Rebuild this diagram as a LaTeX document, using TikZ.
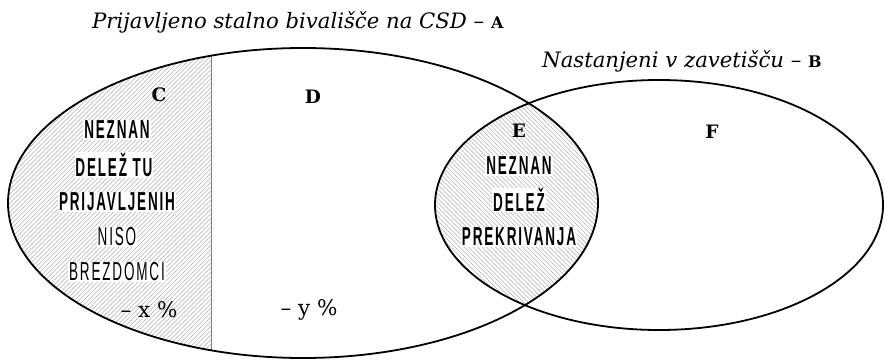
\documentclass[tikz,border=0pt]{standalone}
\usepackage{fontspec}
\setmainfont{DejaVu Serif}
\newfontfamily\ttl{DejaVu Serif}
\newfontfamily\lbl{DejaVu Serif}
\newfontfamily\cond[FakeStretch=0.52,LetterSpace=7]{Liberation Sans}
\begin{document}
\begin{tikzpicture}[x=1pt,y=-1pt,
  outline/.style={line width=1.8pt,black},
  hatch/.style={line width=0.4pt,black!30},
  divider/.style={line width=0.8pt,black!50},
  title/.style={font=\ttl\fontsize{21.2}{24}\selectfont\itshape,inner sep=0pt},
  letter/.style={font=\lbl\fontsize{18.5}{20}\selectfont\bfseries,inner sep=0pt},
  boldlab/.style={font=\cond\fontsize{26}{28}\selectfont\bfseries,fill=white,inner sep=0.8pt},
  reglab/.style={font=\cond\fontsize{26}{28}\selectfont,fill=white,inner sep=0.8pt},
  pct/.style={font=\lbl\fontsize{21.5}{24}\selectfont,inner sep=1pt}]
\useasboundingbox (0,0) rectangle (885,361);
\fill[white] (0,0) rectangle (885,361);
% hatching C
\begin{scope}
  \clip (303,203) ellipse [x radius=295pt, y radius=155pt];
  \clip (0,0) rectangle (211,361);
  \foreach \i in {-400,-395.5,...,300} {\draw[hatch] (\i,361) -- ++(361,-361);}
\end{scope}
% hatching E
\begin{scope}
  \clip (303,203) ellipse [x radius=295pt, y radius=155pt];
  \clip (659,205) ellipse [x radius=224pt, y radius=125pt];
  \foreach \i in {100,104.5,...,700} {\draw[hatch] (\i,0) -- ++(361,361);}
\end{scope}
% divider
\begin{scope}
  \clip (303,203) ellipse [x radius=295pt, y radius=155pt];
  \coordinate (dt) at (211,0);
  \coordinate (db) at (211,361);
  \draw[divider] (dt) -- (db);
\end{scope}
% outlines
\draw[outline] (303,203) ellipse [x radius=295pt, y radius=155pt];
\draw[outline] (659,205) ellipse [x radius=224pt, y radius=125pt];
% titles
\node[title,anchor=base west] (tA) at (92,29) {Prijavljeno stalno bivališče na CSD – {\upshape\lbl\fontsize{16}{18}\selectfont\bfseries A}};
\node[title,anchor=base west] (tB) at (542,67) {Nastanjeni v zavetišču – {\upshape\lbl\fontsize{16}{18}\selectfont\bfseries B}};
% letters
\node[letter] (C) at (159,95) {C};
\node[letter] (D) at (313,97) {D};
\node[letter] (E) at (519,131) {E};
\node[letter] (F) at (712,132) {F};
% C text
\node[boldlab] (c1) at (117,130) {NEZNAN};
\node[boldlab] (c2) at (114,165) {DELEŽ TU};
\node[boldlab] (c3) at (117,202) {PRIJAVLJENIH};
\node[reglab] (c4) at (117,237) {NISO};
\node[reglab] (c5) at (117,272) {BREZDOMCI};
\node[pct] (c6) at (149,310) {– x \%};
% D text
\node[pct] (d1) at (309,310) {– y \%};
% E text
\node[boldlab] (e1) at (519,166) {NEZNAN};
\node[boldlab] (e2) at (519,200) {DELEŽ};
\node[boldlab] (e3) at (519,237) {PREKRIVANJA};
\end{tikzpicture}
\end{document}
